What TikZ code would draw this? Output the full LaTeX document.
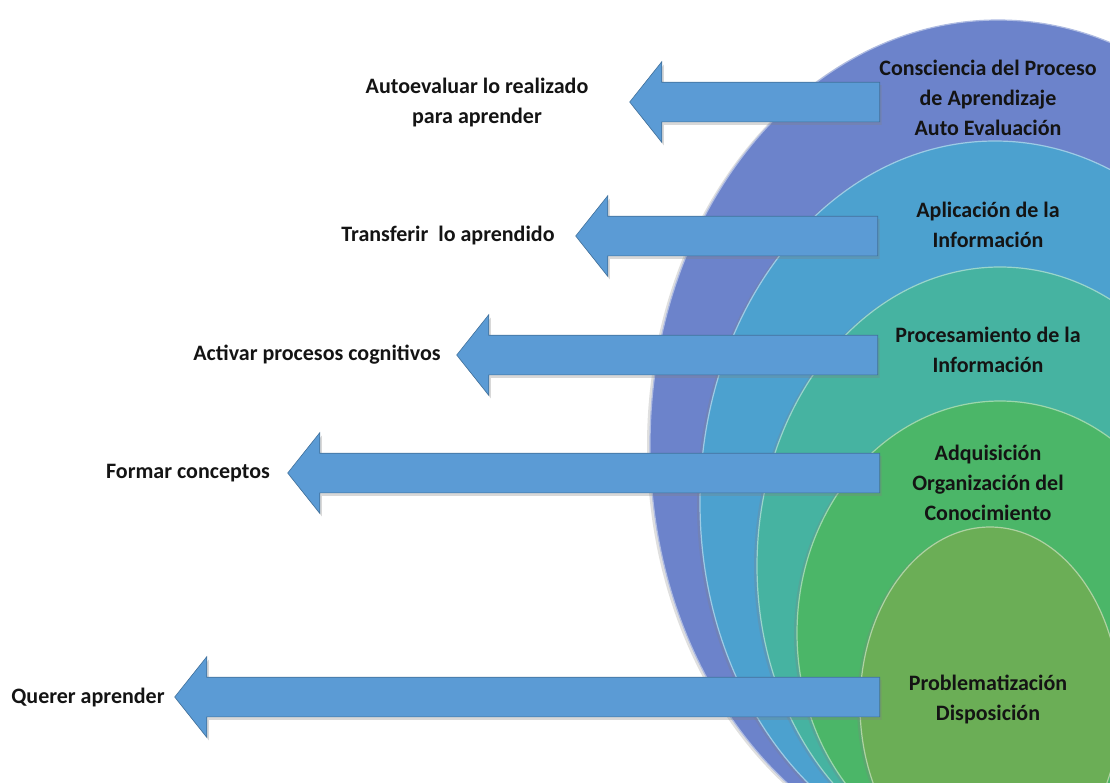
\documentclass[tikz,border=0pt]{standalone}
\usepackage{fontspec}
\setmainfont{Carlito}
\usetikzlibrary{shapes.arrows,shadows,positioning}
\definecolor{ringA}{HTML}{6C83CB}
\definecolor{ringB}{HTML}{4CA1CF}
\definecolor{ringC}{HTML}{46B3A1}
\definecolor{ringD}{HTML}{4BB668}
\definecolor{ringE}{HTML}{6BAE56}
\definecolor{arrowblue}{HTML}{5B9BD5}
\definecolor{arrowedge}{HTML}{41719C}

\begin{document}
\begin{tikzpicture}[x=1pt,y=-1pt,
  ring/.style={fill=#1,draw=white!45!#1,line width=1.2pt,
    drop shadow={shadow xshift=-3pt,shadow yshift=-1pt,opacity=.25}},
  barrow/.style={single arrow,shape border rotate=180,anchor=tail,
    fill=arrowblue,draw=arrowedge,line width=.6pt,inner sep=0pt,
    text height=39pt,text depth=0pt,single arrow head extend=20.5pt,single arrow tip angle=103,
    drop shadow={opacity=.3,shadow xshift=2pt,shadow yshift=-3pt}},
  txt/.style={font=\bfseries\fontsize{22}{30}\selectfont,align=center,text=black!92,inner sep=0pt}]
\useasboundingbox (0,0) rectangle (1110,782);
\clip (0,0) rectangle (1110,782);
\fill[white] (0,0) rectangle (1110,782);

% nested rings, outside to inside
\path[ring=ringA] (998,445) ellipse [x radius=348, y radius=425];
\path[ring=ringB] (995,503) ellipse [x radius=295, y radius=362];
\path[ring=ringC] (1000,566) ellipse [x radius=243, y radius=299];
\path[ring=ringD] (1000,633) ellipse [x radius=203, y radius=232];
\path[ring=ringE] (990,705) ellipse [x radius=130, y radius=178];

% arrows
\node[barrow,minimum height=250pt] (a1) at (880,102) {};
\node[barrow,minimum height=302pt] (a2) at (878,236) {};
\node[barrow,minimum height=421pt] (a3) at (878,355) {};
\node[barrow,minimum height=592pt] (a4) at (880,473) {};
\node[barrow,minimum height=705pt] (a5) at (880,697) {};

% stages
\node[txt] (conciencia) at (988,98) {Consciencia del Proceso\\de Aprendizaje\\Auto Evaluación};
\node[txt] (aplicacion) at (988,225) {Aplicación de la\\Información};
\node[txt] (procesamiento) at (988,350) {Procesamiento de la\\Información};
\node[txt] (adquisicion) at (988,483) {Adquisición\\Organización del\\Conocimiento};
\node[txt] (problema) at (988,699) {Problematización\\Disposición};

% actions
\node[txt] (autoevaluar) at (477,103) {Autoevaluar lo realizado\\para aprender};
\node[txt] (transferir) at (448,236) {Transferir\ \ lo aprendido};
\node[txt] (activar) at (317,355) {Activar procesos cognitivos};
\node[txt] (formar) at (188,473) {Formar conceptos};
\node[txt] (querer) at (88,697) {Querer aprender};
\end{tikzpicture}
\end{document}
